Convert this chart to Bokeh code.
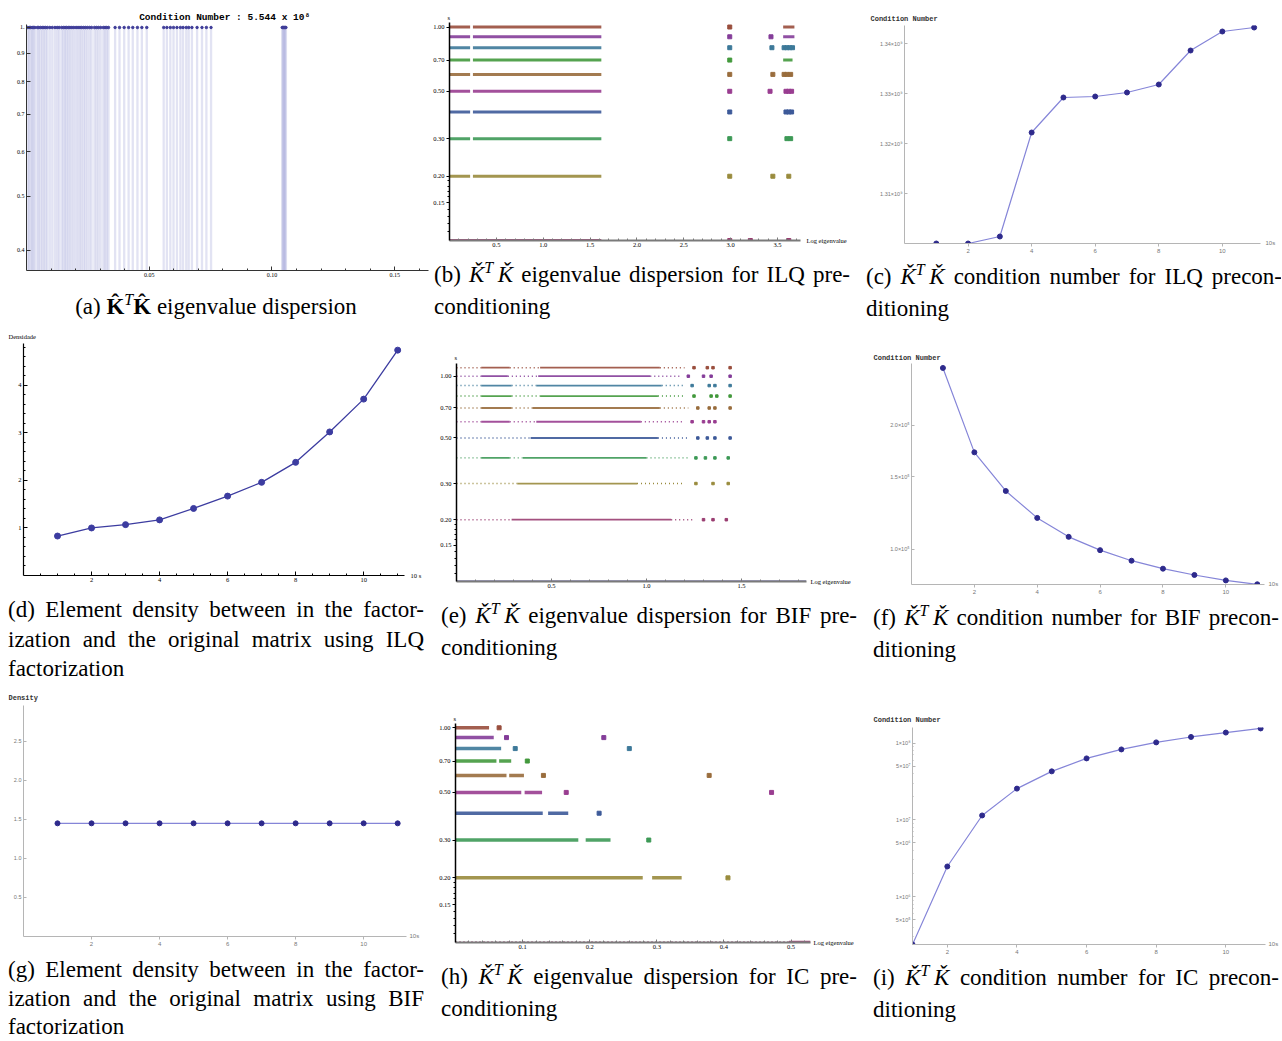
import json
from bokeh.plotting import figure
from bokeh.layouts import row, column
from bokeh.models import (Div, FixedTicker, PrintfTickFormatter, LinearAxis,
                          CustomJSTickFormatter, Range1d, ColumnDataSource)
from bokeh.embed import file_html
from bokeh.resources import INLINE

# ---------------------------------------------------------------- data
# (a) eigenvalues of K^T K (all drawn at level 1)
eig_a = [0.0005, 0.0011, 0.0017, 0.0023, 0.0028, 0.0034, 0.0044, 0.0050, 0.0057,
         0.0064, 0.0071, 0.0078, 0.0085, 0.0095, 0.0105, 0.0116, 0.0125, 0.0133,
         0.0143, 0.0150, 0.0157, 0.0163, 0.0170, 0.0177, 0.0185, 0.0193, 0.0202,
         0.0210, 0.0218, 0.0225, 0.0233, 0.0240, 0.0248, 0.0257, 0.0265, 0.0277,
         0.0285, 0.0293, 0.0302, 0.0313, 0.0320, 0.0327, 0.0334, 0.0361, 0.0379,
         0.0398, 0.0416, 0.0433, 0.0452, 0.0470, 0.0490,
         0.0559, 0.0572, 0.0586, 0.0599, 0.0613, 0.0627, 0.0638, 0.0651, 0.0661,
         0.0674, 0.0695, 0.0715, 0.0733, 0.0752,
         0.1042, 0.1045, 0.1048, 0.1051, 0.1054, 0.1057]
level_a = 1.0
cond_a = "5.544"

# (b) ILQ dispersion: dense runs and isolated eigenvalues per s
s_b = [1.0, 0.9, 0.8, 0.7, 0.6, 0.5, 0.4, 0.3, 0.2, 0.1]
runs_b = [[(0, 0.22), (0.25, 1.62), (3.56, 3.68)],
          [(0, 0.22), (0.25, 1.62), (3.56, 3.68)],
          [(0, 0.22), (0.25, 1.62)],
          [(0, 0.22), (0.25, 1.62), (3.56, 3.66)],
          [(0, 0.22), (0.25, 1.62)],
          [(0, 0.22), (0.25, 1.62)],
          [(0, 0.22), (0.25, 1.62)],
          [(0, 0.22), (0.25, 1.62)],
          [(0, 0.22), (0.25, 1.62)],
          [(0, 1.62)]]
pts_b = [[2.99],
         [2.99, 3.43],
         [2.99, 3.44, 3.57, 3.60, 3.63, 3.66],
         [2.99],
         [2.99, 3.45, 3.57, 3.60, 3.64],
         [2.99, 3.42, 3.59, 3.62, 3.65],
         [2.99, 3.59, 3.62, 3.65],
         [2.99, 3.60, 3.64],
         [2.99, 3.45, 3.62],
         [2.99, 3.21, 3.62]]

# (e) BIF dispersion
s_e = [1.1, 1.0, 0.9, 0.8, 0.7, 0.6, 0.5, 0.4, 0.3, 0.2, 0.1]
runs_e = [[(0.13, 0.28), (0.44, 1.07)],
          [(0.13, 0.27), (0.43, 1.02)],
          [(0.13, 0.29), (0.42, 1.08)],
          [(0.13, 0.29), (0.44, 1.06)],
          [(0.13, 0.29), (0.40, 1.07)],
          [(0.13, 0.28), (0.42, 0.97)],
          [(0.39, 1.06)],
          [(0.13, 0.28), (0.35, 1.00)],
          [(0.32, 0.95)],
          [(0.29, 1.13)],
          [(0, 1.84)]]
dots_e = [[(0, 0.13), (0.28, 0.44), (1.07, 1.20)],
          [(0, 0.13), (0.27, 0.43), (1.02, 1.18)],
          [(0, 0.13), (0.29, 0.42), (1.08, 1.20)],
          [(0, 0.13), (0.29, 0.44), (1.06, 1.20)],
          [(0, 0.13), (0.29, 0.40), (1.07, 1.22)],
          [(0, 0.13), (0.28, 0.42), (0.97, 1.20)],
          [(0, 0.39), (1.06, 1.22)],
          [(0, 0.13), (0.28, 0.35), (1.00, 1.22)],
          [(0, 0.32), (0.95, 1.20)],
          [(0, 0.29), (1.13, 1.25)],
          []]
pts_e = [[1.25, 1.32, 1.35, 1.44],
         [1.22, 1.30, 1.34, 1.44],
         [1.24, 1.33, 1.36, 1.44],
         [1.25, 1.34, 1.37, 1.44],
         [1.27, 1.33, 1.36, 1.44],
         [1.24, 1.30, 1.33, 1.36],
         [1.27, 1.32, 1.36, 1.44],
         [1.26, 1.31, 1.36, 1.43],
         [1.26, 1.35, 1.43],
         [1.30, 1.35, 1.42],
         []]

# (h) IC dispersion
s_h = [1.0, 0.9, 0.8, 0.7, 0.6, 0.5, 0.4, 0.3, 0.2, 0.1]
runs_h = [[(0, 0.050)],
          [(0, 0.057)],
          [(0, 0.068)],
          [(0, 0.061), (0.065, 0.083)],
          [(0, 0.076), (0.080, 0.102)],
          [(0, 0.098), (0.103, 0.129)],
          [(0, 0.130), (0.138, 0.168)],
          [(0, 0.183), (0.194, 0.231)],
          [(0, 0.279), (0.293, 0.337)],
          [(0.497, 0.529)]]
dots_h = [[], [], [], [], [], [], [], [], [], [(0, 0.497)]]
pts_h = [[0.065], [0.076, 0.221], [0.089, 0.259], [0.107], [0.131, 0.378],
         [0.165, 0.471], [0.214], [0.288], [0.406], []]

# line charts (x = 10 s)
s10 = [1, 2, 3, 4, 5, 6, 7, 8, 9, 10, 11]
cond_ilq_e9 = [1.3000, 1.3000, 1.3014, 1.3222, 1.3292, 1.3294, 1.3302, 1.3318,
               1.3386, 1.3424, 1.3432]
dens_ilq = [0.83, 1.00, 1.07, 1.17, 1.41, 1.67, 1.96, 2.38, 3.02, 3.71, 4.74]
cond_bif_e5 = [2.76, 1.72, 1.385, 1.191, 1.071, 0.994, 0.937, 0.896, 0.865, 0.839, 0.821]
dens_bif = [1.45, 1.45, 1.45, 1.45, 1.45, 1.45, 1.45, 1.45, 1.45, 1.45, 1.45]
cond_ic = [2.38e5, 2.47e6, 1.14e7, 2.55e7, 4.28e7, 6.31e7, 8.26e7, 1.02e8, 1.20e8,
           1.37e8, 1.55e8]

# tick values
ticks_a_x = [0.05, 0.10, 0.15]
ticks_a_y = [0.4, 0.5, 0.6, 0.7, 0.8, 0.9, 1.0]
ticks_s = [0.15, 0.2, 0.3, 0.5, 0.7, 1.0]
ticks_b_x = [0.5, 1.0, 1.5, 2.0, 2.5, 3.0, 3.5]
ticks_e_x = [0.5, 1.0, 1.5]
ticks_h_x = [0.1, 0.2, 0.3, 0.4, 0.5]
ticks_even = [2, 4, 6, 8, 10]
ticks_c_y = [1.31, 1.32, 1.33, 1.34]
ticks_d_y = [1, 2, 3, 4]
ticks_f_y = [1.0, 1.5, 2.0]
ticks_g_y = [0.5, 1.0, 1.5, 2.0, 2.5]
ticks_i_y = [5e5, 1e6, 5e6, 1e7, 5e7, 1e8]

# ---------------------------------------------------------------- style
MM = ["#3F3D99", "#993D71", "#998B3D", "#3D9956", "#3D5A99", "#993D90",
      "#996D3D", "#43993D", "#3D7999", "#843D99", "#994E3D"]
SERIF = "Liberation Serif"
MONO = "Liberation Mono"
SANS = "Liberation Sans"


def mkfig(w, h, bl, br, bt, bb, xr, yr, ylog=False):
    p = figure(width=w, height=h, x_range=Range1d(*xr), y_range=Range1d(*yr),
               y_axis_type="log" if ylog else "linear",
               output_backend="svg", toolbar_location=None,
               min_border_left=bl, min_border_right=br,
               min_border_top=bt, min_border_bottom=bb)
    p.outline_line_color = None
    p.xgrid.visible = False
    p.ygrid.visible = False
    p.background_fill_color = "white"
    p.border_fill_color = "white"
    return p


def style_axis(ax, ticks, minor, fmt, color, lw, font, fsize, lcolor,
               t_in=3, t_out=0, m_in=0, m_out=0):
    ax.ticker = FixedTicker(ticks=ticks, minor_ticks=minor)
    ax.formatter = fmt
    ax.axis_line_color = color
    ax.axis_line_width = lw
    ax.major_tick_line_color = color
    ax.minor_tick_line_color = color
    ax.major_tick_in = t_in
    ax.major_tick_out = t_out
    ax.minor_tick_in = m_in
    ax.minor_tick_out = m_out
    ax.major_label_text_font = font
    ax.major_label_text_font_size = fsize
    ax.major_label_text_color = lcolor
    ax.major_label_standoff = 2


def top_text(p, text, offset, standoff, size, font=SERIF, color="black",
             style="normal", align="left"):
    p.title.text = text
    p.title.align = align
    p.title.offset = offset
    p.title.standoff = standoff
    p.title.text_font = font
    p.title.text_font_size = size
    p.title.text_color = color
    p.title.text_font_style = style


def end_text(p, text, y_val, standoff, size, font=SERIF, color="black"):
    ax = LinearAxis(ticker=FixedTicker(ticks=[y_val]),
                    formatter=CustomJSTickFormatter(code="return " + json.dumps(text) + ";"))
    ax.axis_line_color = None
    ax.major_tick_line_color = None
    ax.minor_tick_line_color = None
    ax.major_tick_in = 0
    ax.major_tick_out = 0
    ax.major_label_standoff = standoff
    ax.major_label_text_font = font
    ax.major_label_text_font_size = size
    ax.major_label_text_color = color
    p.add_layout(ax, "right")


def disp(p, levels, cidx, runs, dots, pts, lw, psize):
    seg = dict(x0=[], x1=[], y=[], c=[])
    dsg = dict(x0=[], x1=[], y=[], c=[])
    pt = dict(x=[], y=[], c=[])
    for s, ci, rr, dd, pp in zip(levels, cidx, runs, dots, pts):
        col = MM[ci]
        for a, b in rr:
            seg["x0"].append(a); seg["x1"].append(b); seg["y"].append(s); seg["c"].append(col)
        for a, b in dd:
            dsg["x0"].append(a); dsg["x1"].append(b); dsg["y"].append(s); dsg["c"].append(col)
        for x in pp:
            pt["x"].append(x); pt["y"].append(s); pt["c"].append(col)
    p.segment(x0="x0", y0="y", x1="x1", y1="y", line_color="c", line_width=lw,
              line_alpha=0.9, source=ColumnDataSource(seg))
    p.segment(x0="x0", y0="y", x1="x1", y1="y", line_color="c", line_width=lw * 0.8,
              line_dash="1 3", source=ColumnDataSource(dsg))
    p.scatter(x="x", y="y", color="c", size=psize, marker="square",
              source=ColumnDataSource(pt))


def disp_axes(p, xt, xminor, xfmt):
    style_axis(p.xaxis[0], xt, xminor, xfmt, "#7a7a7a", 2, SERIF, "6.5px", "black",
               t_in=3, t_out=0, m_in=2, m_out=0)
    style_axis(p.yaxis[0], ticks_s, [0.11, 0.12, 0.13, 0.14, 0.16, 0.17, 0.18, 0.19],
               PrintfTickFormatter(format="%.2f"), "black", 1.5, SERIF, "6.5px", "black",
               t_in=0, t_out=3, m_in=0, m_out=2)


def grey_axes(p, yt, yminor, yfmt):
    style_axis(p.xaxis[0], ticks_even, [], PrintfTickFormatter(format="%d"),
               "#b5b5b5", 1, SANS, "6px", "#777777", t_in=0, t_out=3)
    style_axis(p.yaxis[0], yt, yminor, yfmt, "#b5b5b5", 1, SANS, "5.5px", "#777777",
               t_in=3, t_out=0, m_in=1, m_out=0)


LINE_C = "#8585d8"
PT_C = "#2e2a8c"

# ---------------------------------------------------------------- (a)
pa = mkfig(430, 292, 26, 2, 24, 22, (0, 0.1638), (0.3684, 1.0124), ylog=True)
pa.segment(x0=eig_a, y0=[0.3684] * len(eig_a), x1=eig_a, y1=[level_a] * len(eig_a),
           line_color="#8a8fd0", line_alpha=0.25, line_width=2.3)
pa.scatter(eig_a, [level_a] * len(eig_a), size=2.5, color="#3F3D99")
style_axis(pa.xaxis[0], ticks_a_x, [0.01, 0.02, 0.03, 0.04, 0.06, 0.07, 0.08, 0.09,
                                    0.11, 0.12, 0.13, 0.14, 0.16],
           PrintfTickFormatter(format="%.2f"), "#333333", 1, SERIF, "6px", "black",
           t_in=4, t_out=0, m_in=2, m_out=0)
style_axis(pa.yaxis[0], ticks_a_y, [], CustomJSTickFormatter(
    code="return tick > 0.99 ? '1.' : tick.toFixed(1);"),
    "#333333", 1, SERIF, "6px", "black", t_in=4, t_out=0)
top_text(pa, "Condition Number : " + cond_a + "  x 10\u2078", 8, 4, "9.5px",
         font=MONO, style="bold", align="center")

# ---------------------------------------------------------------- (b)
pb = mkfig(430, 260, 18, 60, 22, 20, (0, 3.745), (0.1, 1.05), ylog=True)
disp(pb, s_b, [int(round(s * 10)) for s in s_b], runs_b, [[] for _ in s_b], pts_b, 3, 4)
disp_axes(pb, ticks_b_x, [round(0.1 * k, 1) for k in range(1, 38) if k % 5],
          PrintfTickFormatter(format="%.1f"))
top_text(pb, "s", -2, 3.5, "6.5px")
end_text(pb, "Log eigenvalue", 0.1001, 6, "6.5px")

# ---------------------------------------------------------------- (c)
pc = mkfig(421, 262, 44, 21, 25, 19, (0, 11.2), (1.30, 1.3436))
pc.line(s10, cond_ilq_e9, line_color=LINE_C, line_width=1.2)
pc.scatter(s10, cond_ilq_e9, size=5, color=PT_C)
grey_axes(pc, ticks_c_y, [], PrintfTickFormatter(format="%.2f\u00d710\u2079"))
top_text(pc, "Condition Number", -34, 4.5, "7px", font=MONO, style="bold",
         color="#333333")
end_text(pc, "10s", 1.30001, 5, "6px", font=SANS, color="#777777")

# ---------------------------------------------------------------- (d)
pd_ = mkfig(430, 270, 23, 26, 18, 20, (0, 11.2), (0, 4.88))
pd_.line(s10, dens_ilq, line_color="#3c3ca0", line_width=1.3)
pd_.scatter(s10, dens_ilq, size=6, color="#3c3ca0")
style_axis(pd_.xaxis[0], ticks_even, [k * 0.5 for k in range(1, 23) if k % 4],
           PrintfTickFormatter(format="%d"), "black", 1.2, SERIF, "6.5px", "black",
           t_in=4, t_out=0, m_in=2, m_out=0)
style_axis(pd_.yaxis[0], ticks_d_y, [round(k * 0.2, 1) for k in range(1, 25) if k % 5],
           PrintfTickFormatter(format="%d"), "black", 1.2, SERIF, "6.5px", "black",
           t_in=4, t_out=0, m_in=2, m_out=0)
top_text(pd_, "Densidade", -15, 6.5, "6.5px")
end_text(pd_, "10 s", 0.001, 6, "6.5px")

# ---------------------------------------------------------------- (e)
pe = mkfig(430, 276, 26, 54, 38, 20, (0, 1.842), (0.1, 1.153), ylog=True)
disp(pe, s_e, [int(round(s * 10)) - 1 for s in s_e], runs_e, dots_e, pts_e, 1.8, 2.5)
disp_axes(pe, ticks_e_x, [round(0.1 * k, 1) for k in range(1, 19) if k % 5],
          PrintfTickFormatter(format="%.1f"))
top_text(pe, "s", -2, 4.5, "6.5px")
end_text(pe, "Log eigenvalue", 0.1001, 4, "6.5px")

# ---------------------------------------------------------------- (f)
pf = mkfig(421, 278, 51, 14, 38, 19, (0, 11.23), (0.82, 2.83), ylog=True)
pf.line(s10, cond_bif_e5, line_color=LINE_C, line_width=1.2)
pf.scatter(s10, cond_bif_e5, size=5, color=PT_C)
grey_axes(pf, ticks_f_y, [], PrintfTickFormatter(format="%.1f\u00d710\u2075"))
top_text(pf, "Condition Number", -38, 3.5, "7px", font=MONO, style="bold",
         color="#333333")
end_text(pf, "10s", 0.8201, 4, "6px", font=SANS, color="#777777")

# ---------------------------------------------------------------- (g)
pg = mkfig(430, 271, 23, 24, 20, 20, (0, 11.26), (0, 2.96))
pg.line(s10, dens_bif, line_color=LINE_C, line_width=1.2)
pg.scatter(s10, dens_bif, size=5, color=PT_C)
grey_axes(pg, ticks_g_y, [], PrintfTickFormatter(format="%.1f"))
top_text(pg, "Density", -15, 6.5, "7px", font=MONO, style="bold", color="#333333")
end_text(pg, "10s", 0.001, 3, "6px", font=SANS, color="#777777")

# ---------------------------------------------------------------- (h)
ph = mkfig(430, 277, 25, 50, 38, 20, (0, 0.529), (0.1, 1.047), ylog=True)
disp(ph, s_h, [int(round(s * 10)) for s in s_h], runs_h, dots_h, pts_h, 3.5, 4)
disp_axes(ph, ticks_h_x, [round(0.02 * k, 2) for k in range(1, 27) if k % 5],
          PrintfTickFormatter(format="%.1f"))
top_text(ph, "s", -2, 3.5, "6.5px")
end_text(ph, "Log eigenvalue", 0.1001, 3, "6.5px")

# ---------------------------------------------------------------- (i)
pi = mkfig(421, 278, 52, 14, 42, 19, (1, 11.14), (2.38e5, 1.594e8), ylog=True)
pi.line(s10, cond_ic, line_color=LINE_C, line_width=1.2)
pi.scatter(s10, cond_ic, size=5, color=PT_C)
minor_i = [m * 10 ** e for e in (5, 6, 7, 8) for m in (2, 3, 4, 6, 7, 8, 9)]
grey_axes(pi, ticks_i_y, minor_i, CustomJSTickFormatter(code="""
const e = Math.floor(Math.log10(tick) + 1e-9);
const m = Math.round(tick / Math.pow(10, e));
const sup = {"5": "\u2075", "6": "\u2076", "7": "\u2077", "8": "\u2078", "9": "\u2079"};
return m + "\u00d710" + sup[String(e)];
"""))
top_text(pi, "Condition Number", -39, 6.5, "7px", font=MONO, style="bold",
         color="#333333")
end_text(pi, "10s", 2.381e5, 3, "6px", font=SANS, color="#777777")

# ---------------------------------------------------------------- captions
SUPT = '<span style="font-size:16px;position:relative;top:-9px;"><i>T</i></span>'
KH = '<b>K&#770;</b>'
KC = '<i>&#488;</i>'

cap_a = [f'(a) {KH}{SUPT}{KH} eigenvalue dispersion']
cap_b = [f'(b) {KC}{SUPT}&thinsp;{KC} eigenvalue dispersion for ILQ pre-', 'conditioning']
cap_c = [f'(c) {KC}{SUPT}&thinsp;{KC} condition number for ILQ precon-', 'ditioning']
cap_d = ['(d) Element density between in the factor-',
         'ization and the original matrix using ILQ', 'factorization']
cap_e = [f'(e) {KC}{SUPT}&thinsp;{KC} eigenvalue dispersion for BIF pre-', 'conditioning']
cap_f = [f'(f) {KC}{SUPT}&thinsp;{KC} condition number for BIF precon-', 'ditioning']
cap_g = ['(g) Element density between in the factor-',
         'ization and the original matrix using BIF', 'factorization']
cap_h = [f'(h) {KC}{SUPT}&thinsp;{KC} eigenvalue dispersion for IC pre-', 'conditioning']
cap_i = [f'(i) {KC}{SUPT}&thinsp;{KC} condition number for IC precon-', 'ditioning']


def caption(lines, width, height, offset, inner=416, center=False, lh=29.5,
            last_tight=False):
    body = ""
    for i, ln in enumerate(lines):
        last = i == len(lines) - 1
        if center:
            st = "text-align:center;"
        elif last:
            st = "text-align:left;"
        else:
            st = "text-align:justify;text-align-last:justify;"
        if last and last_tight:
            st += "line-height:22px;padding-top:3px;"
        body += f'<div style="{st}width:{inner}px;white-space:nowrap;">{ln}</div>'
    html = (f'<div style="font-family:Liberation Serif,serif;font-size:23px;'
            f'line-height:{lh}px;color:#000;width:{inner}px;">{body}</div>')
    return Div(text=html, width=width, height=height, margin=(0, 0, 0, offset),
               styles={"overflow": "hidden"})


ca = caption(cap_a, 422, 33, 8, center=True)
cb = caption(cap_b, 426, 65, 4)
cc = caption(cap_c, 415, 63, 6)
cd = caption(cap_d, 422, 90, 8)
ce = caption(cap_e, 419, 84, 11)
cf = caption(cap_f, 408, 82, 13, inner=406)
cg = caption(cap_g, 422, 84, 8, lh=28.5, last_tight=True)
ch = caption(cap_h, 419, 78, 11)
ci = caption(cap_i, 408, 77, 13, inner=406)

r1 = row(column(pa, ca, spacing=0), column(pb, cb, spacing=0),
         column(pc, cc, spacing=0), spacing=0)
r2 = row(column(pd_, cd, spacing=0), column(pe, ce, spacing=0),
         column(pf, cf, spacing=0), spacing=0)
r3 = row(column(pg, cg, spacing=0), column(ph, ch, spacing=0),
         column(pi, ci, spacing=0), spacing=0)
layout = column(r1, r2, r3, spacing=0)

open("out.html", "w").write(file_html(layout, INLINE))
